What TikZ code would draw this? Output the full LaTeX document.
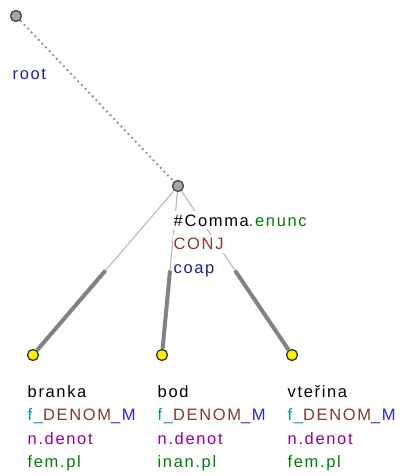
\documentclass[tikz,border=0pt]{standalone}
\usepackage{fontspec}
\setmainfont{Liberation Sans}[LetterSpace=10]
\usetikzlibrary{calc}
\definecolor{cteal}{RGB}{0,150,150}
\definecolor{cbrown}{RGB}{130,60,40}
\definecolor{cblue}{RGB}{40,40,220}
\definecolor{cdblue}{RGB}{30,30,160}
\definecolor{cpurple}{RGB}{150,0,150}
\definecolor{cgreen}{RGB}{0,125,0}
\definecolor{thinln}{RGB}{185,185,185}
\definecolor{thickln}{RGB}{130,130,130}
\definecolor{dotln}{RGB}{140,140,140}
\begin{document}
\begin{tikzpicture}[x=1pt,y=-1pt,
  gnode/.style={circle,draw={rgb,255:red,70;green,70;blue,70},line width=1.3pt,fill={rgb,255:red,165;green,165;blue,165},minimum size=11pt,inner sep=0pt},
  ynode/.style={circle,draw={rgb,255:red,50;green,50;blue,50},line width=1.3pt,fill=yellow,minimum size=11pt,inner sep=0pt},
  lbl/.style={anchor=base west,inner xsep=0.5pt,inner ysep=3pt,fill=white,font=\fontsize{16.5}{19}\selectfont},
  thinedge/.style={draw=thinln,line width=1.1pt},
  thickedge/.style={draw=thickln,line width=4pt},
  rootedge/.style={draw=dotln,line width=1.8pt,dash pattern=on 1.8pt off 3.4pt}
]
\useasboundingbox (0,0) rectangle (403,476);
\fill[white] (0,0) rectangle (403,476);
% nodes
\node[gnode] (root) at (16,16) {};
\node[gnode] (p) at (178,186) {};
\node[ynode] (c1) at (33,355) {};
\node[ynode] (c2) at (162,355) {};
\node[ynode] (c3) at (292,355) {};
% edges
\draw[rootedge] (root) -- (p);
\foreach \c in {c1,c2,c3}{
  \draw[thinedge] (p) -- (\c);
  \draw[thickedge] ($(p.center)!0.5!(\c.center)$) -- (\c);
}
% labels
\node[lbl,text=cdblue] (rootl) at (12,80) {root};
\node[lbl] (pl1) at (173,226) {\#Comma\textcolor{cgreen}{.enunc}};
\node[lbl,text=cbrown] (pl2) at (173,249.5) {CONJ};
\node[lbl,text=cdblue] (pl3) at (173,273) {coap};
\foreach \n/\x/\w/\g in {a/27/branka/fem.pl, b/157/bod/inan.pl, c/287/vte\v{r}ina/fem.pl}{
  \node[lbl] (\n1) at (\x,397) {\w};
  \node[lbl] (\n2) at (\x,420.5) {\textcolor{cteal}{f\_}\textcolor{cbrown}{DENOM}\textcolor{cblue}{\_M}};
  \node[lbl,text=cpurple] (\n3) at (\x,444) {n.denot};
  \node[lbl,text=cgreen] (\n4) at (\x,467.5) {\g};
}
\end{tikzpicture}
\end{document}
